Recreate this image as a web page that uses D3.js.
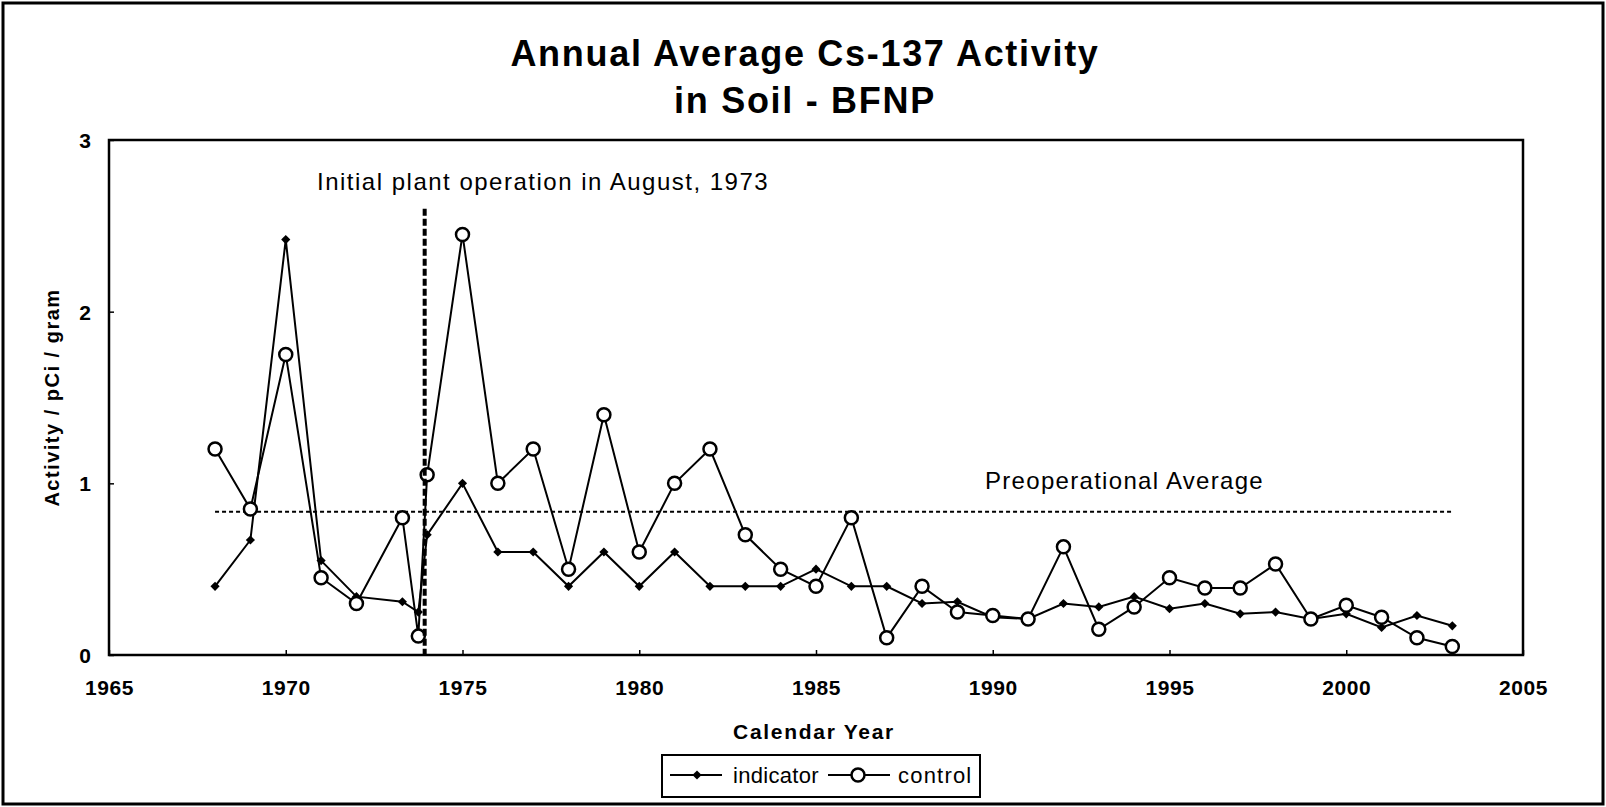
<!DOCTYPE html>
<html>
<head>
<meta charset="utf-8">
<script src="https://cdn.jsdelivr.net/npm/d3@7"></script>
<style>
  html, body { margin: 0; padding: 0; background: #fff; }
  svg { display: block; }
  text { font-family: "Liberation Sans", Arial, sans-serif; fill: #000; }
</style>
</head>
<body>
<svg id="chart" width="1606" height="807"></svg>
<script>
// ---- data ----
const years = [1968, 1969, 1970, 1971, 1972, 1973.3, 1973.75, 1974, 1975, 1976, 1977, 1978, 1979, 1980,
  1981, 1982, 1983, 1984, 1985, 1986, 1987, 1988, 1989, 1990, 1991, 1992, 1993, 1994, 1995,
  1996, 1997, 1998, 1999, 2000, 2001, 2002, 2003];
const indicator = [0.40, 0.67, 2.42, 0.55, 0.34, 0.31, 0.25, 0.70, 1.00, 0.60, 0.60, 0.40, 0.60, 0.40,
  0.60, 0.40, 0.40, 0.40, 0.50, 0.40, 0.40, 0.30, 0.31, 0.22, 0.21, 0.30, 0.28, 0.34, 0.27,
  0.30, 0.24, 0.25, 0.21, 0.24, 0.16, 0.23, 0.17];
const control = [1.20, 0.85, 1.75, 0.45, 0.30, 0.80, 0.11, 1.05, 2.45, 1.00, 1.20, 0.50, 1.40, 0.60,
  1.00, 1.20, 0.70, 0.50, 0.40, 0.80, 0.10, 0.40, 0.25, 0.23, 0.21, 0.63, 0.15, 0.28, 0.45,
  0.39, 0.39, 0.53, 0.21, 0.29, 0.22, 0.10, 0.05];
const xTicks = [1965, 1970, 1975, 1980, 1985, 1990, 1995, 2000, 2005];
const yTicks = [0, 1, 2, 3];
const preopAverage = 0.835;
const preopYears = [1968, 2003];
const operationStart = 1973.93;
const operationLineTop = 2.6;
const titleLines = ["Annual Average Cs-137 Activity", "in Soil - BFNP"];
const operationLabel = "Initial plant operation in August, 1973";
const preopLabel = "Preoperational Average";
const seriesNames = ["indicator", "control"];

// ---- layout ----
const svg = d3.select("#chart");
const W = 1606, H = 807;
const plot = { left: 109, right: 1523, top: 140, bottom: 655 };

const x = d3.scaleLinear().domain([1965, 2005]).range([plot.left, plot.right]);
const y = d3.scaleLinear().domain([0, 3]).range([plot.bottom, plot.top]);

// outer frame
svg.append("rect").attr("x", 3).attr("y", 3).attr("width", W - 6).attr("height", H - 6)
  .attr("fill", "none").attr("stroke", "#000").attr("stroke-width", 3);

// title
svg.append("text").attr("x", 805).attr("y", 66).attr("text-anchor", "middle")
  .style("font-size", "36px").style("font-weight", "bold").style("letter-spacing", "1.7px")
  .text(titleLines[0]);
svg.append("text").attr("x", 805).attr("y", 113).attr("text-anchor", "middle")
  .style("font-size", "36px").style("font-weight", "bold").style("letter-spacing", "1.7px")
  .text(titleLines[1]);

// axes
const xAxis = d3.axisBottom(x).tickValues(xTicks).tickSize(-5).tickPadding(0).tickFormat(d3.format("d"));
const gx = svg.append("g").attr("transform", `translate(0,${plot.bottom})`).call(xAxis);
gx.select(".domain").remove();
gx.selectAll(".tick line").attr("stroke", "#000").attr("stroke-width", 1.5);
gx.selectAll(".tick text").attr("y", 40).attr("dy", null)
  .style("font-size", "21px").style("font-weight", "bold").style("letter-spacing", "0.6px")
  .style("font-family", "'Liberation Sans', Arial, sans-serif");

const yAxis = d3.axisLeft(y).tickValues(yTicks).tickSize(-5).tickPadding(0).tickFormat(d3.format("d"));
const gy = svg.append("g").attr("transform", `translate(${plot.left},0)`).call(yAxis);
gy.select(".domain").remove();
gy.selectAll(".tick line").attr("stroke", "#000").attr("stroke-width", 1.5);
gy.selectAll(".tick text").attr("x", -18).attr("dy", "0.35em")
  .style("font-size", "21px").style("font-weight", "bold")
  .style("font-family", "'Liberation Sans', Arial, sans-serif");

// plot frame
svg.append("rect").attr("x", plot.left).attr("y", plot.top)
  .attr("width", plot.right - plot.left).attr("height", plot.bottom - plot.top)
  .attr("fill", "none").attr("stroke", "#000").attr("stroke-width", 2.5);

// axis titles
svg.append("text").attr("x", 814).attr("y", 739).attr("text-anchor", "middle")
  .style("font-size", "21px").style("font-weight", "bold").style("letter-spacing", "1.7px")
  .text("Calendar Year");
svg.append("text").attr("transform", `translate(59,${(plot.top + plot.bottom) / 2}) rotate(-90)`)
  .attr("text-anchor", "middle")
  .style("font-size", "20px").style("font-weight", "bold").style("letter-spacing", "1.5px")
  .text("Activity / pCi / gram");

// preoperational average line
svg.append("line")
  .attr("x1", x(preopYears[0])).attr("x2", x(preopYears[1]))
  .attr("y1", y(preopAverage)).attr("y2", y(preopAverage))
  .attr("stroke", "#000").attr("stroke-width", 2).attr("stroke-dasharray", "4,3");
svg.append("text").attr("x", 985).attr("y", 489)
  .style("font-size", "24px").style("letter-spacing", "1.3px").text(preopLabel);

// operation label
svg.append("text").attr("x", 317).attr("y", 190)
  .style("font-size", "24px").style("letter-spacing", "1.5px").text(operationLabel);

// series
const line = d3.line().x(d => x(d[0])).y(d => y(d[1]));
const indData = years.map((yr, i) => [yr, indicator[i]]);
const ctlData = years.map((yr, i) => [yr, control[i]]);

svg.append("path").datum(indData).attr("d", line)
  .attr("fill", "none").attr("stroke", "#000").attr("stroke-width", 2);
const diamond = d3.symbol().type(d3.symbolSquare).size(42);
svg.append("g").selectAll("path").data(indData).join("path")
  .attr("d", diamond).attr("transform", d => `translate(${x(d[0])},${y(d[1])}) rotate(45)`)
  .attr("fill", "#000");

svg.append("path").datum(ctlData).attr("d", line)
  .attr("fill", "none").attr("stroke", "#000").attr("stroke-width", 2);
svg.append("g").selectAll("circle").data(ctlData).join("circle")
  .attr("cx", d => x(d[0])).attr("cy", d => y(d[1])).attr("r", 6.5)
  .attr("fill", "#fff").attr("stroke", "#000").attr("stroke-width", 2.5);

// operation start line
svg.append("line")
  .attr("x1", x(operationStart)).attr("x2", x(operationStart))
  .attr("y1", y(operationLineTop)).attr("y2", y(0))
  .attr("stroke", "#000").attr("stroke-width", 4).attr("stroke-dasharray", "7,3");

// legend
const lg = svg.append("g");
lg.append("rect").attr("x", 662).attr("y", 755).attr("width", 318).attr("height", 42)
  .attr("fill", "#fff").attr("stroke", "#000").attr("stroke-width", 2);
const ly = 775;
lg.append("line").attr("x1", 670).attr("x2", 722).attr("y1", ly).attr("y2", ly)
  .attr("stroke", "#000").attr("stroke-width", 2);
lg.append("path").attr("d", diamond).attr("transform", `translate(697,${ly}) rotate(45)`).attr("fill", "#000");
lg.append("text").attr("x", 733).attr("y", ly + 8).style("font-size", "22px")
  .style("letter-spacing", "0.3px").text(seriesNames[0]);
lg.append("line").attr("x1", 828).attr("x2", 890).attr("y1", ly).attr("y2", ly)
  .attr("stroke", "#000").attr("stroke-width", 2);
lg.append("circle").attr("cx", 858).attr("cy", ly).attr("r", 6.5)
  .attr("fill", "#fff").attr("stroke", "#000").attr("stroke-width", 2.5);
lg.append("text").attr("x", 898).attr("y", ly + 8).style("font-size", "22px")
  .style("letter-spacing", "1.2px").text(seriesNames[1]);
</script>
</body>
</html>
